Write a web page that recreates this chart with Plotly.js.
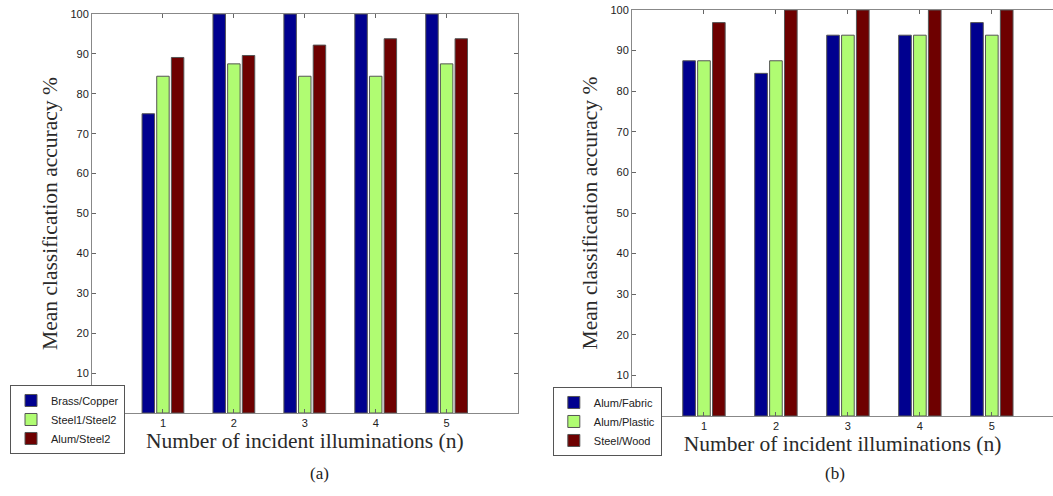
<!DOCTYPE html>
<html>
<head>
<meta charset="utf-8">
<script src="https://cdn.plot.ly/plotly-3.0.1.min.js"></script>
<style>html,body{margin:0;padding:0;background:#fff;}#chart{width:1053px;height:496px;}</style>
</head>
<body>
<div id="chart"></div>
<script>
// Shared category axis
const illuminations = [1, 2, 3, 4, 5];
const yTicks = [10, 20, 30, 40, 50, 60, 70, 80, 90, 100];

// Panel (a)
const seriesNamesA = ["Brass/Copper", "Steel1/Steel2", "Alum/Steel2"];
const brassCopper = [75, 100, 100, 100, 100];
const steel1Steel2 = [84.4, 87.5, 84.4, 84.4, 87.5];
const alumSteel2 = [89.1, 89.6, 92.2, 93.8, 93.8];

// Panel (b)
const seriesNamesB = ["Alum/Fabric", "Alum/Plastic", "Steel/Wood"];
const alumFabric = [87.5, 84.4, 93.8, 93.8, 96.9];
const alumPlastic = [87.5, 87.5, 93.8, 93.8, 93.8];
const steelWood = [96.9, 100, 100, 100, 100];

const colors = ["#00008f", "#b0fc72", "#6e0000"];
const serif = "Liberation Serif, Times New Roman, serif";
const sans = "Liberation Sans, Arial, sans-serif";

function barTrace(name, y, color, xa, ya, legend) {
  return {
    type: "bar", name: name, x: illuminations, y: y,
    xaxis: xa, yaxis: ya, legend: legend,
    marker: {color: color, line: {color: "#555555", width: 1}},
    hoverinfo: "x+y+name"
  };
}

const dataA = [brassCopper, steel1Steel2, alumSteel2];
const dataB = [alumFabric, alumPlastic, steelWood];
const traces = [];
dataA.forEach((d, i) => traces.push(barTrace(seriesNamesA[i], d, colors[i], "x", "y", "legend")));
dataB.forEach((d, i) => traces.push(barTrace(seriesNamesB[i], d, colors[i], "x2", "y2", "legend2")));

function xAxis(domain, range, anchor, mirror) {
  return {
    domain: domain, range: range, anchor: anchor,
    tickvals: illuminations, ticks: "inside", ticklen: 4, tickcolor: "#666",
    showline: true, linecolor: "#888", linewidth: 1, mirror: mirror,
    showgrid: false, zeroline: false,
    tickfont: {family: sans, size: 11, color: "#222"},
    title: {text: "Number of incident illuminations (n)", font: {family: serif, size: 21.5, color: "#2a2a2a"}, standoff: 3}
  };
}
function yAxis(domain, anchor, mirror) {
  return {
    domain: domain, range: [0, 100], anchor: anchor,
    tickvals: yTicks, ticks: "inside", ticklen: 4, tickcolor: "#666",
    showline: true, linecolor: "#888", linewidth: 1, mirror: mirror,
    showgrid: false, zeroline: false,
    tickfont: {family: sans, size: 11, color: "#222"},
    title: {text: "Mean classification accuracy %", font: {family: serif, size: 21.5, color: "#2a2a2a"}, standoff: 6}
  };
}

const legendStyle = (x, y) => ({
  x: x, y: y, xanchor: "left", yanchor: "top",
  bgcolor: "#ffffff", bordercolor: "#555", borderwidth: 1,
  font: {family: sans, size: 11, color: "#222"},
  tracegroupgap: 0, itemclick: false, itemdoubleclick: false
});

const layout = {
  width: 1053, height: 496,
  margin: {l: 0, r: 0, t: 0, b: 0},
  paper_bgcolor: "#ffffff", plot_bgcolor: "#ffffff",
  barmode: "group", bargap: 0.38, bargroupgap: 0.15,
  showlegend: true,
  xaxis: xAxis([0.0874, 0.4915], [0, 6], "y", "ticks"),
  yaxis: yAxis([0.1673, 0.9718], "x", "ticks"),
  xaxis2: xAxis([0.6002, 1.0], [0, 5.85], "y2", "ticks"),
  yaxis2: yAxis([0.1613, 0.9798], "x2", false),
  legend: legendStyle(0.0095, 0.2238),
  legend2: legendStyle(0.525, 0.2198),
  annotations: [
    {text: "(a)", xref: "paper", yref: "paper", x: 0.2925, y: 0.022, showarrow: false, font: {family: serif, size: 17, color: "#222"}},
    {text: "(b)", xref: "paper", yref: "paper", x: 0.804, y: 0.022, showarrow: false, font: {family: serif, size: 17, color: "#222"}}
  ]
};

Plotly.newPlot("chart", traces, layout, {staticPlot: true, displayModeBar: false});
</script>
</body>
</html>
